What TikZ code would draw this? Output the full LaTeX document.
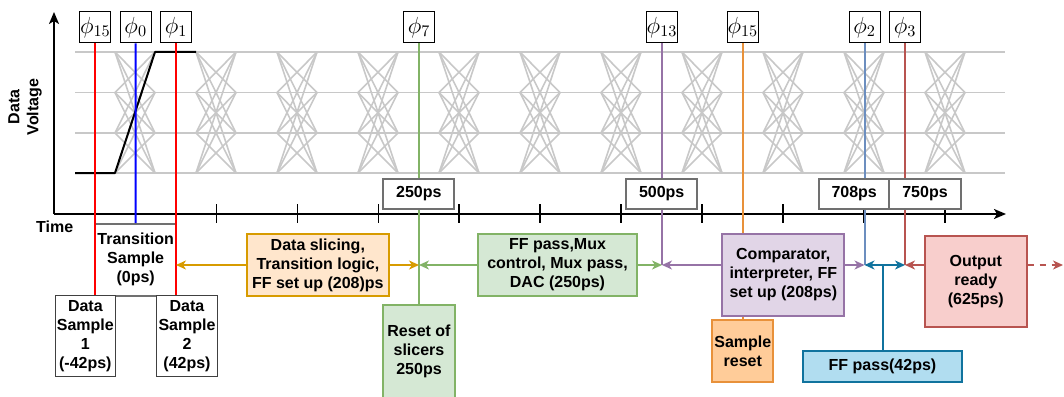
\documentclass[tikz,border=0pt]{standalone}
\usepackage{fontspec}
\usepackage{graphicx}
\setmainfont{Liberation Sans}
\usetikzlibrary{arrows.meta}

\definecolor{eyegray}{HTML}{C8C8C8}
\definecolor{boxgray}{HTML}{707070}
\definecolor{orgfill}{HTML}{FFE6CC}
\definecolor{orgline}{HTML}{D79B00}
\definecolor{grnfill}{HTML}{D5E8D4}
\definecolor{grnline}{HTML}{82B366}
\definecolor{purfill}{HTML}{E1D5E7}
\definecolor{purline}{HTML}{9673A6}
\definecolor{redfill}{HTML}{F8CECC}
\definecolor{redline}{HTML}{B85450}
\definecolor{bluefill}{HTML}{B1DDF0}
\definecolor{blueline}{HTML}{10739E}
\definecolor{phtwo}{HTML}{6C8EBF}
\definecolor{srfill}{HTML}{FFCC99}
\definecolor{srline}{HTML}{E8913A}

% clock phase symbol, enlarged
\newcommand{\clkph}[1]{\scalebox{1.62}{$\phi_{#1}$}}

\tikzset{
  lbl/.style={font=\bfseries\fontsize{16}{19}\selectfont, align=center, text=black},
  phase/.style={draw=black, line width=1pt, fill=white, inner sep=0pt,
    minimum width=31pt, minimum height=31pt, font=\fontsize{14.4}{17}\selectfont},
  tbox/.style={lbl, draw=boxgray, line width=2pt, fill=white, inner sep=0pt,
    minimum height=30pt},
  sbox/.style={lbl, draw=black!75, line width=1pt, fill=white, inner sep=0pt},
  proc/.style={lbl, line width=2pt, inner sep=0pt},
  eye/.style={eyegray, line width=1.6pt},
  plin/.style={line width=2pt},
  conn/.style={line width=2pt, ->},
  axis/.style={line width=1.8pt, -{Stealth[length=12pt,width=10pt,inset=3pt]}}
}

\begin{document}
\begin{tikzpicture}[x=1pt, y=-1pt, >={Stealth[length=10pt,width=9pt,inset=3pt]}]
\useasboundingbox (0,0) rectangle (1064,396);

% eye diagram: four levels and the crossings between bit periods
\foreach \y in {52,92.5,133,173} \draw[eye] (75,\y) -- (1005,\y);
\foreach \k in {0,...,10}{
  \pgfmathsetmacro\cx{135+81*\k}
  \foreach \a in {52,92.5,133,173}
    \foreach \b in {52,92.5,133,173}
      \draw[eye] (\cx-20,\a) -- (\cx+20,\b);
}

% one data transition
\draw[line width=2pt, line join=round] (75,173) -- (115,173) -- (155,52) -- (196,52);

% axes and ticks
\coordinate (org) at (54,214);
\coordinate (ytop) at (54,12);
\coordinate (xend) at (1006,214);
\draw[axis] (org) -- (ytop);
\draw[axis] (org) -- (xend);
\foreach \x in {216.7,297.5,378.3,459,540,621,702,783,864,945}
  \draw[line width=1.5pt] (\x,204) -- (\x,223);

\node[lbl] (time) at (54.7,226.5) {Time};
\node[lbl, rotate=90] (volt) at (25,107) {Data\\Voltage};

% clock phases
\node[phase] (p15)  at (95.3,27.5)  {\clkph{15}};
\node[phase] (p0)   at (135.7,27.5) {\clkph{0}};
\node[phase] (p1)   at (176,27.5)   {\clkph{1}};
\node[phase] (p7)   at (419,27.5)   {\clkph{7}};
\node[phase] (p13)  at (662,27.5)   {\clkph{13}};
\node[phase] (p15b) at (742.8,27.5) {\clkph{15}};
\node[phase] (p2)   at (864.5,27.5) {\clkph{2}};
\node[phase] (p3)   at (905,27.5)   {\clkph{3}};

% sampling boxes
\node[lbl, draw=boxgray, line width=2pt, fill=white, inner sep=0pt,
  minimum width=80.7pt, minimum height=71.7pt] (ts) at (135.65,259.85)
  {Transition\\Sample\\(0ps)};
\node[sbox, minimum width=60.7pt, minimum height=81pt] (ds1) at (85.35,336.2)
  {Data\\Sample\\1\\(-42ps)};
\node[sbox, minimum width=60.7pt, minimum height=81pt] (ds2) at (187,336.2)
  {Data\\Sample\\2\\(42ps)};

% processing stages
\node[proc, draw=orgline, fill=orgfill, minimum width=142.3pt, minimum height=61.4pt]
  (dsl) at (317.85,265) {Data slicing,\\Transition logic,\\FF set up (208)ps};
\node[proc, draw=grnline, fill=grnfill, minimum width=158.4pt, minimum height=61.7pt]
  (ffp) at (557.5,265) {FF pass,Mux\\control, Mux pass,\\DAC (250ps)};
\node[proc, draw=grnline, fill=grnfill, minimum width=71.7pt, minimum height=93pt]
  (rs) at (419,351.5) {Reset of\\slicers\\250ps};
\node[proc, draw=srline, fill=srfill, minimum width=61pt, minimum height=61.7pt]
  (sr) at (742.8,350.8) {Sample\\reset};
\node[proc, draw=blueline, fill=bluefill, minimum width=158.4pt, minimum height=31pt]
  (ff42) at (882.5,366.2) {FF pass(42ps)};
\node[proc, draw=redline, fill=redfill, minimum width=101.7pt, minimum height=91pt]
  (out) at (975.8,281.2) {Output\\ready\\(625ps)};

% meeting points on the phase lines
\coordinate (m7)  at (p7.south |- dsl.east);
\coordinate (m13) at (p13.south |- dsl.east);
\coordinate (m2)  at (p2.south |- dsl.east);
\coordinate (m3)  at (p3.south |- dsl.east);
\coordinate (j42) at (ff42.north |- dsl.east);
\coordinate (nxt) at (1063,265);

% phase lines
\draw[plin, red]     (p15.south) -- (p15.south |- ds1.north);
\draw[plin, blue]    (p0.south)  -- (ts.north);
\draw[plin, red]     (p1.south)  -- (p1.south |- ds2.north);
\draw[plin, grnline] (p7.south)  -- (rs.north);
\draw[plin, purline] (p13.south) -- (m13);
\draw[plin, srline]  (p15b.south) -- (sr.north);
\draw[plin, phtwo]   (p2.south)  -- (m2);
\draw[plin, redline] (p3.south)  -- (m3);

% time stamps
\node[tbox, minimum width=71pt]   (t250) at (418.8,194)  {250ps};
\node[tbox, minimum width=71.3pt] (t500) at (661.7,194)  {500ps};
\node[tbox, minimum width=70.3pt] (t708) at (854.2,194)  {708ps};
\node[tbox, minimum width=71.4pt] (t750) at (925,194)    {750ps};

\node[proc, draw=purline, fill=purfill, minimum width=122pt, minimum height=82pt]
  (cmp) at (783.3,275) {Comparator,\\interpreter, FF\\set up (208ps)};

% stage connectors
\draw[conn, orgline] (dsl.west) -- (dsl.west -| p1.south);
\draw[conn, orgline] (dsl.east) -- (m7);
\draw[conn, grnline] (ffp.west) -- (m7);
\draw[conn, grnline] (ffp.east) -- (m13);
\draw[conn, purline] (cmp.west |- m13) -- (m13);
\draw[conn, purline] (cmp.east |- m2) -- (m2);
\draw[line width=2pt, blueline] (ff42.north) -- (j42);
\draw[conn, blueline] (j42) -- (m2);
\draw[conn, blueline] (j42) -- (m3);
\draw[conn, redline] (out.west |- m3) -- (m3);
\draw[conn, redline, dash pattern=on 6pt off 6pt] (out.east |- m3) -- (nxt);
\end{tikzpicture}
\end{document}
